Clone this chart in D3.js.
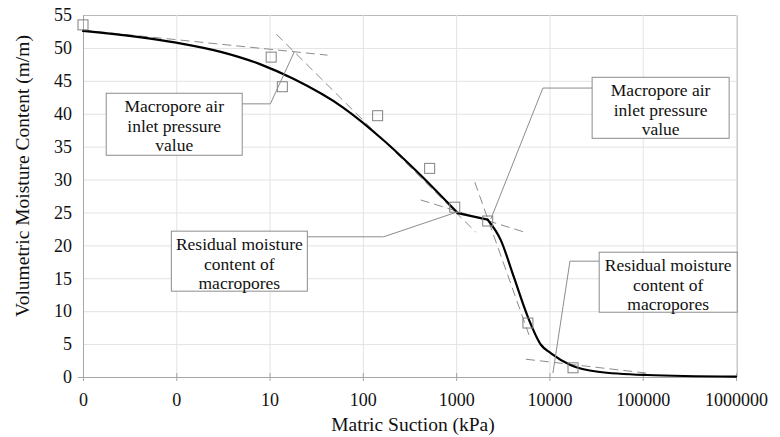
<!DOCTYPE html>
<html>
<head>
<meta charset="utf-8">
<script src="https://cdn.jsdelivr.net/npm/d3@7"></script>
<style>
  html, body { margin: 0; padding: 0; background: #fff; }
  svg { display: block; font-family: "Liberation Serif", "DejaVu Serif", serif; }
</style>
</head>
<body>
<svg id="chart" width="780" height="437"></svg>
<script>
// ---- data ----
const xTicks = [0.1, 1, 10, 100, 1000, 10000, 100000, 1000000];
const xTickLabels = ["0", "0", "10", "100", "1000", "10000", "100000", "1000000"];
const yTicks = [0, 5, 10, 15, 20, 25, 30, 35, 40, 45, 50, 55];

// measured points (suction kPa, moisture)
const measSuction = [0.1, 10.4, 13.7, 144, 520, 966, 2180, 5880, 17900];
const measMoisture = [53.5, 48.6, 44.1, 39.7, 31.7, 25.8, 23.7, 8.2, 1.4];

// fitted curve (three pieces joined at the two break points)
const fitSuctionA = [0.1, 1, 3, 8, 18, 62, 175, 387, 1040];
const fitMoistureA = [52.6, 50.8, 49.4, 47.5, 45.3, 40.9, 35.7, 31.1, 24.9];
const fitSuctionB = [1040, 2180];
const fitMoistureB = [24.9, 23.9];
const fitSuctionC = [2180, 3010, 4150, 5880, 8110, 10400, 17000, 33200, 111000, 1000000];
const fitMoistureC = [23.9, 20.8, 15.2, 9.1, 4.9, 3.6, 1.8, 0.8, 0.3, 0.05];

// tangent (dashed) lines: [x1, y1, x2, y2]
const tangents = [
  [0.1, 52.7, 41.8, 48.9],
  [11.8, 52.1, 1625, 22.0],
  [417, 26.9, 5730, 21.9],
  [1585, 29.6, 6030, 6.4],
  [5600, 2.7, 109000, 0.6]
];

// annotations: box centre (data), elbow (data), target (data)
const annLines = [
  ["Macropore air", "inlet pressure", "value"],
  ["Macropore air", "inlet pressure", "value"],
  ["Residual moisture", "content of", "macropores"],
  ["Residual moisture", "content of", "macropores"]
];
const annCenter = [[0.95, 38.4], [155600, 40.9], [4.74, 17.6], [187500, 14.4]];
const annElbow = [[10.2, 41.5], [8510, 43.9], [167, 21.3], [16600, 17.6]];
const annTarget = [[18.4, 49.4], [2355, 24.0], [1040, 25.1], [10900, 0.6]];

// ---- layout ----
const pL = 83, pR = 736, pT = 15, pB = 377;
const svg = d3.select("#chart");

const x = d3.scaleLog().domain([0.1, 1000000]).range([pL, pR]);
const y = d3.scaleLinear().domain([0, 55]).range([pB, pT]);

// gridlines
const grid = svg.append("g");
grid.selectAll("line.h").data(yTicks.filter(d => d > 0)).join("line")
  .attr("x1", pL).attr("x2", pR + 1)
  .attr("y1", d => y(d) + 0.5).attr("y2", d => y(d) + 0.5)
  .attr("stroke", d => d === 55 ? "#b8b8b8" : "#e3e3e3").attr("stroke-width", 1);
grid.selectAll("line.v").data(xTicks.slice(1)).join("line")
  .attr("y1", pT).attr("y2", pB)
  .attr("x1", d => x(d) + 0.5).attr("x2", d => x(d) + 0.5)
  .attr("stroke", "#e3e3e3").attr("stroke-width", 1);
// right border
svg.append("line").attr("x1", pR + 1.5).attr("x2", pR + 1.5).attr("y1", pT).attr("y2", pB)
  .attr("stroke", "#c8c8c8");

// axes
const xAxis = d3.axisBottom(x).tickValues(xTicks).tickFormat((d, i) => xTickLabels[i]).tickSize(4).tickPadding(12);
const gx = svg.append("g").attr("transform", `translate(0,${pB})`).call(xAxis);
gx.select(".domain").attr("stroke", "#a6a6a6").attr("d", `M${pL - 5},0.5H${pR + 1}`);
gx.selectAll(".tick line").attr("stroke", "#a6a6a6").attr("y1", -4).attr("y2", 4);
gx.selectAll(".tick text").attr("font-size", 18).attr("fill", "#111")
  .attr("font-family", "Liberation Serif");

const yAxis = d3.axisLeft(y).tickValues(yTicks).tickSize(0).tickPadding(11);
const gy = svg.append("g").attr("transform", `translate(${pL},0)`).call(yAxis);
gy.select(".domain").attr("stroke", "#a6a6a6");
gy.selectAll(".tick text").attr("font-size", 18).attr("fill", "#111")
  .attr("font-family", "Liberation Serif");

// axis titles
svg.append("text").attr("x", 413).attr("y", 431).attr("text-anchor", "middle")
  .attr("font-size", 19.5).attr("fill", "#111").text("Matric Suction (kPa)");
svg.append("text").attr("transform", "translate(29,176) rotate(-90)").attr("text-anchor", "middle")
  .attr("font-size", 19.5).attr("fill", "#111").text("Volumetric Moisture Content (m/m)");

// tangent lines
svg.append("g").selectAll("line").data(tangents).join("line")
  .attr("x1", d => x(d[0])).attr("y1", d => y(d[1]))
  .attr("x2", d => x(d[2])).attr("y2", d => y(d[3]))
  .attr("stroke", "#8c8c8c").attr("stroke-width", 1).attr("stroke-dasharray", "9,5");

// fitted curve
const pieces = [
  [fitSuctionA, fitMoistureA, d3.curveMonotoneX],
  [fitSuctionB, fitMoistureB, d3.curveLinear],
  [fitSuctionC, fitMoistureC, d3.curveMonotoneX]
];
pieces.forEach(([xs, ys, curve]) => {
  svg.append("path").datum(xs.map((s, i) => [s, ys[i]]))
    .attr("d", d3.line().x(d => x(d[0])).y(d => y(d[1])).curve(curve))
    .attr("fill", "none").attr("stroke", "#000").attr("stroke-width", 2.2)
    .attr("stroke-linejoin", "round").attr("stroke-linecap", "round");
});

// measured squares
const meas = measSuction.map((s, i) => [s, measMoisture[i]]);
svg.append("g").selectAll("rect").data(meas).join("rect")
  .attr("x", d => x(d[0]) - 5).attr("y", d => y(d[1]) - 5)
  .attr("width", 10).attr("height", 10)
  .attr("fill", "none").attr("stroke", "#808080").attr("stroke-width", 1);

// annotations
const boxW = [136, 137, 136, 138], boxH = [62, 61, 60, 60];
annLines.forEach((lines, i) => {
  const cx = x(annCenter[i][0]), cy = y(annCenter[i][1]);
  const ex = x(annElbow[i][0]), ey = y(annElbow[i][1]);
  const tx = x(annTarget[i][0]), ty = y(annTarget[i][1]);
  const bw = boxW[i], bh = boxH[i];
  const side = ex > cx ? 1 : -1;
  const ax = cx + side * bw / 2;
  svg.append("path")
    .attr("d", `M${ax},${ey}L${ex},${ey}L${tx},${ty}`)
    .attr("fill", "none").attr("stroke", "#8c8c8c").attr("stroke-width", 1);
  svg.append("rect").attr("x", cx - bw / 2).attr("y", cy - bh / 2)
    .attr("width", bw).attr("height", bh)
    .attr("fill", "#fff").attr("stroke", "#8c8c8c").attr("stroke-width", 1);
  const t = svg.append("text").attr("text-anchor", "middle").attr("font-size", 17.5).attr("fill", "#111");
  lines.forEach((ln, j) => {
    t.append("tspan").attr("x", cx).attr("y", cy - bh / 2 + 19 + j * 19.5).text(ln);
  });
});
</script>
</body>
</html>
